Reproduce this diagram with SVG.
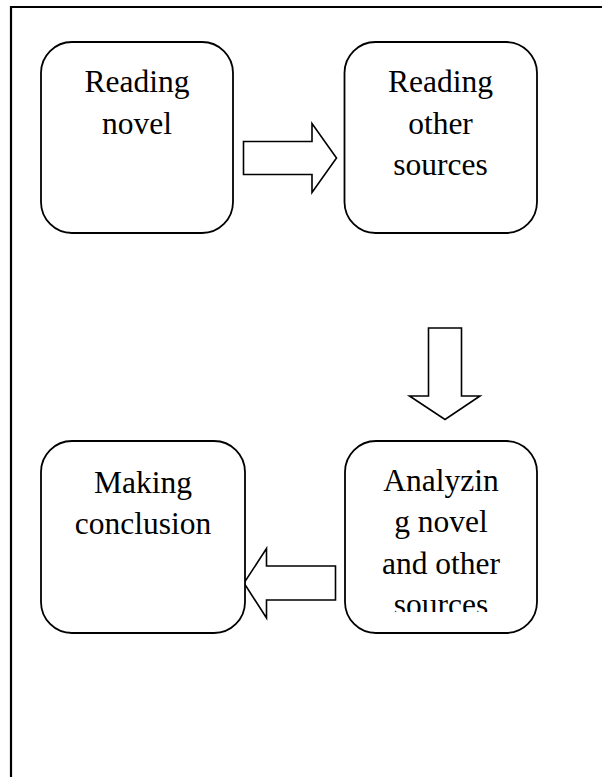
<svg xmlns="http://www.w3.org/2000/svg" width="602" height="777" viewBox="0 0 602 777">
  <style>
    .box { fill: #fff; stroke: #000; stroke-width: 1.8; }
    .arrow { fill: #fff; stroke: #000; stroke-width: 1.6; stroke-linejoin: miter; }
    .lbl { font-family: "Liberation Serif", "Times New Roman", serif; font-size: 31.5px; fill: #000; text-anchor: middle; }
    .frame { fill: none; stroke: #000; stroke-width: 2.2; }
  </style>
  <defs>
    <clipPath id="clip4">
      <rect x="345" y="441" width="192" height="171"/>
    </clipPath>
  </defs>
  <rect width="602" height="777" fill="#fff"/>
  <path class="frame" d="M11,777 V7 H602"/>

  <g id="connectors">
    <path class="arrow" d="M243.5,141.5 H312 V123.5 L336.5,158 L312,192.5 V174.5 H243.5 Z"/>
    <path class="arrow" d="M428.5,328 H461.5 V396 H480 L445,419.5 L409.5,396 H428.5 Z"/>
    <path class="arrow" d="M335.5,566 H266.5 V548.5 L244,583 L266.5,618 V600 H335.5 Z"/>
  </g>

  <g id="node-reading-novel">
    <rect class="box" x="41" y="42" width="192" height="191" rx="31" ry="31"/>
    <text class="lbl" x="137" y="92">Reading</text>
    <text class="lbl" x="137" y="133.5">novel</text>
  </g>

  <g id="node-reading-other-sources">
    <rect class="box" x="344.5" y="42" width="192.5" height="191" rx="31" ry="31"/>
    <text class="lbl" x="440.5" y="92">Reading</text>
    <text class="lbl" x="440.5" y="133.5">other</text>
    <text class="lbl" x="440.5" y="175">sources</text>
  </g>

  <g id="node-analyzing">
    <rect class="box" x="345" y="441" width="192" height="192" rx="31" ry="31"/>
    <g clip-path="url(#clip4)">
      <text class="lbl" x="441" y="490.5">Analyzin</text>
      <text class="lbl" x="441" y="532">g novel</text>
      <text class="lbl" x="441" y="573.5">and other</text>
      <text class="lbl" x="441" y="615">sources</text>
    </g>
  </g>

  <g id="node-making-conclusion">
    <rect class="box" x="41" y="441" width="204" height="192" rx="31" ry="31"/>
    <text class="lbl" x="143" y="493">Making</text>
    <text class="lbl" x="143" y="534">conclusion</text>
  </g>
</svg>
